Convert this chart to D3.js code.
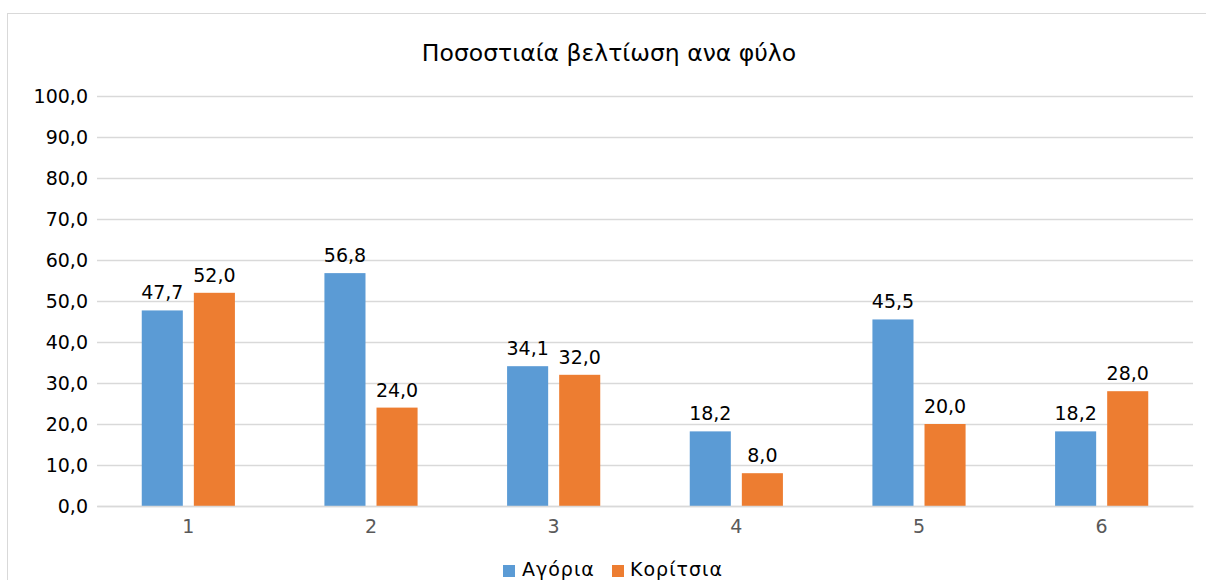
<!DOCTYPE html>
<html>
<head>
<meta charset="utf-8">
<script src="https://cdn.jsdelivr.net/npm/d3@7"></script>
<style>
  html, body { margin: 0; padding: 0; background: #fff; overflow: hidden; }
  svg { display: block; font-family: "DejaVu Sans", Verdana, sans-serif; }
</style>
</head>
<body>
<svg id="chart" width="1206" height="580"></svg>
<script>
// Percentage improvement by gender, per session
const categories = ["1", "2", "3", "4", "5", "6"];
const seriesNames = ["Αγόρια", "Κορίτσια"];
const boys = [47.7, 56.8, 34.1, 18.2, 45.5, 18.2];
const girls = [52.0, 24.0, 32.0, 8.0, 20.0, 28.0];
const yTicks = [0, 10, 20, 30, 40, 50, 60, 70, 80, 90, 100];
const colors = ["#5B9BD5", "#ED7D31"];
const title = "Ποσοστιαία βελτίωση ανα φύλο";

const svg = d3.select("#chart");
const W = 1206, H = 580;
const plot = { left: 97, right: 1193, top: 96, bottom: 506 };
const fontSize = 19;

const fmt = v => d3.format(".1f")(v).replace(".", ",");

// chart frame
svg.append("rect")
  .attr("x", 7.5).attr("y", 13.5)
  .attr("width", W).attr("height", H)
  .attr("fill", "#fff").attr("stroke", "#D9D9D9").attr("stroke-width", 1);

const x = d3.scaleBand().domain(categories).range([plot.left, plot.right]).paddingInner(0).paddingOuter(0);
const outer = x.bandwidth() * 0.245;
const xInner = d3.scaleBand().domain(seriesNames)
  .range([outer, x.bandwidth() - outer]).paddingInner(0.2115).paddingOuter(0);
const y = d3.scaleLinear().domain([0, 100]).range([plot.bottom, plot.top]);

// gridlines + y labels
const yAxis = d3.axisLeft(y).tickValues(yTicks).tickSize(-(plot.right - plot.left)).tickFormat(fmt).tickPadding(9);
const gy = svg.append("g").attr("transform", `translate(${plot.left},0)`).call(yAxis);
gy.select(".domain").remove();
gy.selectAll(".tick line").attr("stroke", "#D9D9D9").attr("stroke-width", 1.3);
gy.selectAll(".tick text").attr("fill", "#000").attr("font-size", fontSize).attr("font-family", "DejaVu Sans, Verdana, sans-serif");

// bars
const rows = categories.map((c, i) => ({ cat: c, vals: [boys[i], girls[i]] }));
const groups = svg.append("g").selectAll("g").data(rows).join("g")
  .attr("transform", d => `translate(${x(d.cat)},0)`);

groups.selectAll("rect").data(d => d.vals.map((v, k) => ({ v, k })))
  .join("rect")
  .attr("x", d => xInner(seriesNames[d.k]))
  .attr("width", xInner.bandwidth())
  .attr("y", d => y(d.v))
  .attr("height", d => y(0) - y(d.v))
  .attr("fill", d => colors[d.k]);

groups.selectAll("text").data(d => d.vals.map((v, k) => ({ v, k })))
  .join("text")
  .attr("x", d => xInner(seriesNames[d.k]) + xInner.bandwidth() / 2)
  .attr("y", d => y(d.v) - 11)
  .attr("text-anchor", "middle")
  .attr("font-size", fontSize)
  .attr("fill", "#000")
  .text(d => fmt(d.v));

// x axis
const gx = svg.append("g").attr("transform", `translate(0,${plot.bottom})`)
  .call(d3.axisBottom(x).tickSize(0).tickPadding(14));
gx.select(".domain").attr("stroke", "#D9D9D9").attr("stroke-width", 1.3);
gx.selectAll(".tick text").attr("fill", "#595959").attr("font-size", fontSize).attr("font-family", "DejaVu Sans, Verdana, sans-serif");

// title
svg.append("text")
  .attr("x", 609).attr("y", 61)
  .attr("text-anchor", "middle")
  .attr("font-size", 23.5)
  .attr("fill", "#000")
  .text(title);

// legend
const legend = svg.append("g");
const legendItems = [{ x: 503, tx: 522 }, { x: 612, tx: 630 }];
seriesNames.forEach((name, i) => {
  legend.append("rect").attr("x", legendItems[i].x).attr("y", 565).attr("width", 12).attr("height", 12).attr("fill", colors[i]);
  legend.append("text").attr("x", legendItems[i].tx).attr("y", 576)
    .attr("font-size", fontSize).attr("letter-spacing", 1).attr("fill", "#000").text(name);
});
</script>
</body>
</html>
